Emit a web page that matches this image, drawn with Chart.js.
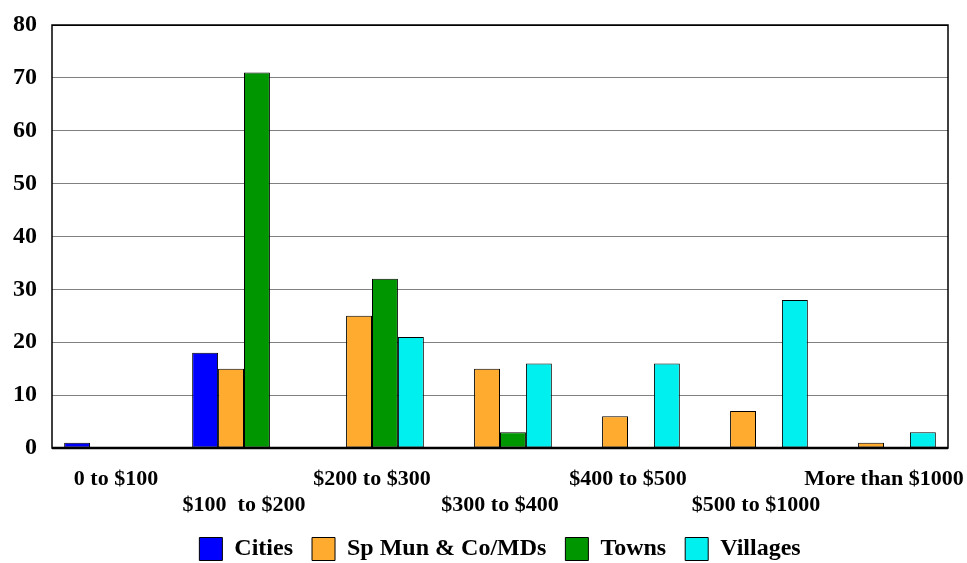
<!DOCTYPE html>
<html>
<head>
<meta charset="utf-8">
<script src="https://cdn.jsdelivr.net/npm/chart.js@4"></script>
<style>
  html, body { margin: 0; padding: 0; background: #fff; }
  #wrap { width: 967px; height: 563px; }
</style>
</head>
<body>
<div id="wrap"><canvas id="chart" width="967" height="563"></canvas></div>
<script>
// Categories and series
const categories = ['0 to $100', '$100  to $200', '$200 to $300', '$300 to $400', '$400 to $500', '$500 to $1000', 'More than $1000'];
const cities   = [1, 18, 0, 0, 0, 0, 0];
const spMun    = [0, 15, 25, 15, 6, 7, 1];
const towns    = [0, 71, 32, 3, 0, 0, 0];
const villages = [0, 0, 21, 16, 16, 28, 3];
const yTicks = [0, 10, 20, 30, 40, 50, 60, 70, 80];

const FONT = "'Liberation Serif', 'Times New Roman', serif";
const LEGEND_CENTER = 500;

// Frame around the plot area, and legend nudged to the right
const framePlugin = {
    id: 'frame',
    beforeDraw(chart) {
        const lg = chart.legend;
        if (lg) {
            const dx = LEGEND_CENTER - (lg.left + lg.right) / 2;
            lg.left += dx;
            lg.right += dx;
        }
    },
    afterDraw(chart) {
        const a = chart.chartArea;
        const ctx = chart.ctx;
        ctx.save();
        ctx.strokeStyle = '#000';
        ctx.lineWidth = 1.5;
        ctx.strokeRect(a.left, a.top, a.right - a.left, a.bottom - a.top);
        ctx.lineWidth = 2.5;
        ctx.beginPath();
        ctx.moveTo(a.left, a.bottom);
        ctx.lineTo(a.right, a.bottom);
        ctx.stroke();
        ctx.restore();
    }
};

function makeSet(label, data, color) {
    return {
        label: label,
        data: data,
        backgroundColor: color,
        borderColor: '#000',
        borderWidth: 1,
        borderSkipped: false,
        categoryPercentage: 0.81,
        barPercentage: 1.0
    };
}

new Chart(document.getElementById('chart'), {
    type: 'bar',
    data: {
        labels: categories,
        datasets: [
            makeSet('Cities', cities, '#0000ff'),
            makeSet('Sp Mun & Co/MDs', spMun, '#ffab30'),
            makeSet('Towns', towns, '#009600'),
            makeSet('Villages', villages, '#00f0f0')
        ]
    },
    options: {
        responsive: false,
        animation: false,
        layout: { padding: { left: 0, right: 19, top: 25, bottom: -8 } },
        plugins: {
            tooltip: { enabled: false },
            legend: {
                position: 'bottom',
                labels: {
                    color: '#000',
                    font: { family: FONT, size: 24, weight: 'bold' },
                    boxWidth: 23,
                    boxHeight: 23,
                    padding: 19,
                    useBorderRadius: false
                }
            }
        },
        scales: {
            x: {
                grid: { display: false },
                border: { display: false },
                ticks: {
                    color: '#000',
                    maxRotation: 0,
                    autoSkip: false,
                    padding: 10,
                    font: { family: FONT, size: 22, weight: 'bold' },
                    callback: function (value, index) {
                        const label = categories[index];
                        return index % 2 === 0 ? [label] : ['', label];
                    }
                },
                afterFit: function (scale) {
                    scale.height = 70;
                    scale.paddingLeft = 0;
                    scale.paddingRight = 0;
                }
            },
            y: {
                min: 0,
                max: 80,
                afterBuildTicks: function (scale) {
                    scale.ticks = yTicks.map(v => ({ value: v }));
                },
                grid: {
                    color: ctx => (ctx.tick && ctx.tick.value === 80) ? '#000' : '#808080',
                    lineWidth: 1,
                    drawTicks: false
                },
                border: { display: false },
                ticks: {
                    color: '#000',
                    padding: 15,
                    font: { family: FONT, size: 24, weight: 'bold' }
                },
                afterFit: function (scale) {
                    scale.width = 52;
                    scale.paddingTop = 0;
                    scale.paddingBottom = 0;
                }
            }
        }
    },
    plugins: [framePlugin]
});
</script>
</body>
</html>
